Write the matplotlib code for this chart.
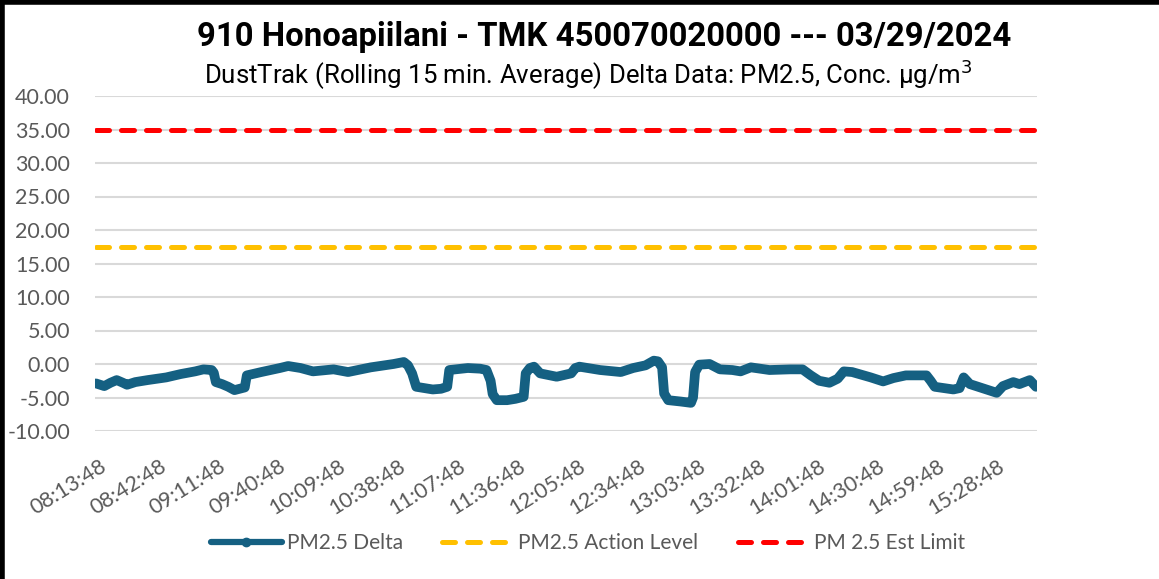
import pandas as pd
import matplotlib.pyplot as plt
from matplotlib.lines import Line2D
from matplotlib.transforms import ScaledTranslation

# chart text
title = "910 Honoapiilani - TMK 450070020000 --- 03/29/2024"
subtitle = "DustTrak (Rolling 15 min. Average) Delta Data: PM2.5, Conc. μg/m$^3$"

# PM2.5 delta readings
times = ["08:13:48", "08:17:48", "08:20:48", "08:23:48", "08:26:48", "08:28:48",
         "08:32:48", "08:38:48", "08:47:48", "08:54:48", "09:01:48", "09:05:48",
         "09:09:48", "09:10:48", "09:11:48", "09:14:48", "09:17:48", "09:20:48",
         "09:25:48", "09:26:48", "09:33:48", "09:42:48", "09:46:48", "09:52:48",
         "09:58:48", "10:08:48", "10:15:48", "10:26:48", "10:37:48", "10:42:48",
         "10:44:48", "10:46:48", "10:48:48", "10:52:48", "10:56:48", "11:00:48",
         "11:03:48", "11:04:48", "11:13:48", "11:19:48", "11:22:48", "11:24:48",
         "11:25:48", "11:27:48", "11:32:48", "11:36:48", "11:40:48", "11:41:48",
         "11:43:48", "11:45:48", "11:48:48", "11:56:48", "12:03:48", "12:05:48",
         "12:07:48", "12:17:48", "12:27:48", "12:33:48", "12:39:48", "12:43:48",
         "12:45:48", "12:47:48", "12:48:48", "12:50:48", "12:56:48", "13:01:48",
         "13:02:48", "13:03:48", "13:05:48", "13:10:48", "13:15:48", "13:21:48",
         "13:25:48", "13:30:48", "13:39:48", "13:49:48", "13:55:48", "13:59:48",
         "14:03:48", "14:08:48", "14:12:48", "14:15:48", "14:19:48", "14:28:48",
         "14:34:48", "14:39:48", "14:45:48", "14:55:48", "14:57:48", "14:59:48",
         "15:08:48", "15:11:48", "15:13:48", "15:16:48", "15:22:48", "15:29:48",
         "15:32:48", "15:37:48", "15:40:48", "15:45:48", "15:48:48"]
delta = [-2.9, -3.3, -2.8, -2.4, -2.8, -3.1,
         -2.7, -2.4, -2.0, -1.5, -1.1, -0.8,
         -0.9, -1.3, -2.7, -3.0, -3.4, -3.9,
         -3.5, -1.7, -1.2, -0.6, -0.3, -0.6,
         -1.1, -0.8, -1.2, -0.5, 0.0, 0.3,
         -0.2, -1.4, -3.4, -3.6, -3.8, -3.7,
         -3.4, -0.9, -0.6, -0.7, -0.9, -2.5,
         -4.5, -5.4, -5.4, -5.2, -4.9, -1.4,
         -0.6, -0.4, -1.4, -1.9, -1.4, -0.6,
         -0.4, -0.9, -1.2, -0.6, -0.2, 0.5,
         0.4, -0.5, -4.4, -5.4, -5.6, -5.8,
         -5.0, -1.2, -0.1, 0.0, -0.8, -0.9,
         -1.1, -0.5, -0.9, -0.8, -0.8, -1.7,
         -2.5, -2.8, -2.2, -1.1, -1.2, -2.0,
         -2.6, -2.1, -1.7, -1.7, -2.5, -3.4,
         -3.8, -3.6, -2.0, -3.0, -3.6, -4.3,
         -3.3, -2.7, -3.0, -2.4, -3.4]

tick_labels = ["08:13:48", "08:42:48", "09:11:48", "09:40:48", "10:09:48", "10:38:48",
               "11:07:48", "11:36:48", "12:05:48", "12:34:48", "13:03:48", "13:32:48",
               "14:01:48", "14:30:48", "14:59:48", "15:28:48"]
action_level = 17.5
est_limit = 35.0
y_ticks = [-10, -5, 0, 5, 10, 15, 20, 25, 30, 35, 40]

# minutes since first reading (one category per minute)
t = pd.to_datetime(times, format="%H:%M:%S")
t0 = t[0]
x = (t - t0).total_seconds() / 60
tick_pos = (pd.to_datetime(tick_labels, format="%H:%M:%S") - t0).total_seconds() / 60
x_lo, x_hi = x.min() - 0.5, x.max() + 0.5

blue = "#156082"
yellow = "#FFC000"
red = "#FF0000"
gray = "#595959"
tick_font = ["Lato", "DejaVu Sans"]
title_font = ["Roboto", "DejaVu Sans"]

fig = plt.figure(figsize=(11.59, 5.79), dpi=100)
ax = fig.add_axes([95 / 1159, 1 - 431 / 579, 942 / 1159, 335 / 579])

ax.plot(x, delta, color=blue, lw=7, solid_joinstyle="round",
        solid_capstyle="round", zorder=3)
ax.plot([x.min(), x.max()], [action_level, action_level], color=yellow, lw=3.6,
        linestyle=(0, (2.6, 2.4)), dash_capstyle="round", zorder=2)
ax.plot([x.min(), x.max()], [est_limit, est_limit], color=red, lw=3.6,
        linestyle=(0, (2.6, 2.4)), dash_capstyle="round", zorder=2)

ax.set_xlim(x_lo, x_hi)
ax.set_ylim(-10, 40)
ax.set_yticks(y_ticks, [f"{v:.2f}" for v in y_ticks])
ax.set_xticks(tick_pos, tick_labels, rotation=32, ha="right", va="center",
              rotation_mode="anchor")
ax.tick_params(length=0, colors=gray, labelsize=15.5)
ax.tick_params(axis="y", pad=18)
ax.tick_params(axis="x", pad=24)
shift = ScaledTranslation(6 / 72, 0, fig.dpi_scale_trans)
for lab in ax.get_xticklabels():
    lab.set_family(tick_font)
    lab.set_transform(lab.get_transform() + shift)
for lab in ax.get_yticklabels():
    lab.set_family(tick_font)
ax.grid(axis="y", color="#D9D9D9", lw=1.5)
ax.set_axisbelow(True)
for s in ax.spines.values():
    s.set_visible(False)

fig.text(604 / 1159, 1 - 37 / 579, title, ha="center", va="center",
         fontsize=23.7, fontweight="bold", family=title_font)
fig.text(588 / 1159, 1 - 75 / 579, subtitle, ha="center", va="center",
         fontsize=18.5, family=title_font)

handles = [
    Line2D([], [], color=blue, lw=4.5, marker="o", markersize=6,
           solid_capstyle="round"),
    Line2D([], [], color=yellow, lw=3.6, linestyle=(0, (2.6, 2.4)), dash_capstyle="round"),
    Line2D([], [], color=red, lw=3.6, linestyle=(0, (2.6, 2.4)), dash_capstyle="round"),
]
fig.legend(handles, ["PM2.5 Delta", "PM2.5 Action Level", "PM 2.5 Est Limit"],
           loc="center", bbox_to_anchor=(588 / 1159, 1 - 543 / 579), ncol=3,
           frameon=False, numpoints=1, handlelength=3.4, columnspacing=1.9,
           handletextpad=0.25, prop={"family": tick_font, "size": 15},
           labelcolor=gray)

# frame edges visible in the reference (left and top)
fig.add_artist(Line2D([0.002, 0.002], [0, 1], color="black", lw=4,
                      transform=fig.transFigure))
fig.add_artist(Line2D([0, 1], [0.997, 0.997], color="black", lw=4,
                      transform=fig.transFigure))

fig.savefig("out.png", dpi=100)
